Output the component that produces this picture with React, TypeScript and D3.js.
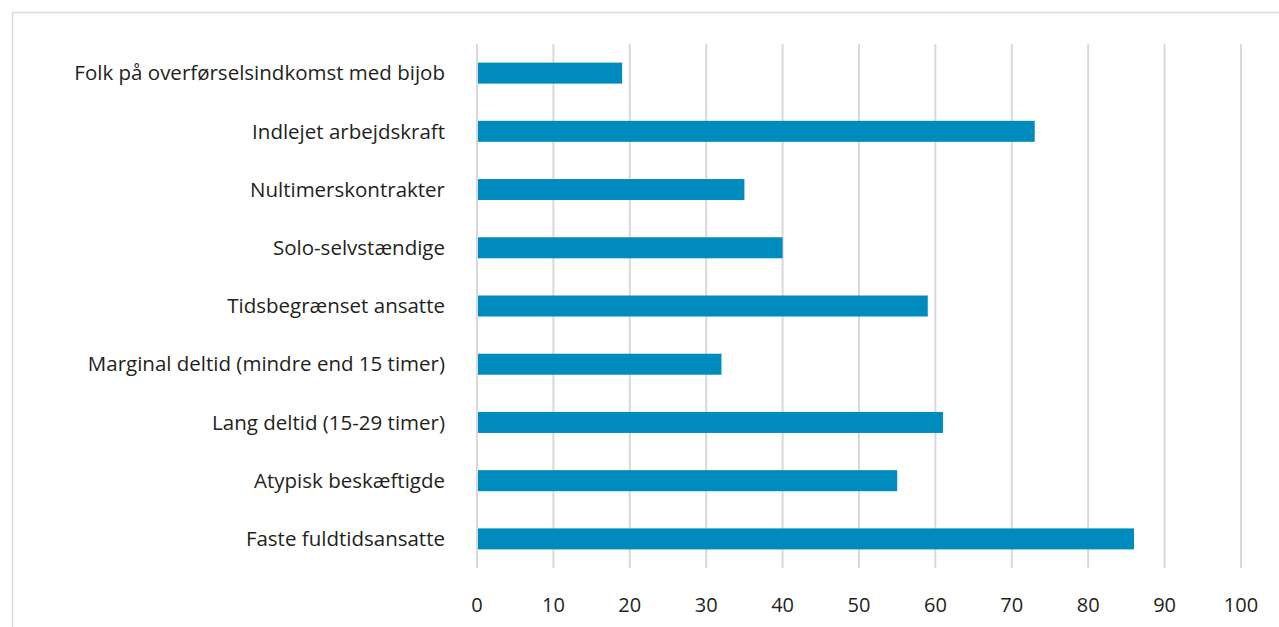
import React, { useEffect, useRef } from 'react';
import * as d3 from 'd3';

// categories from top to bottom
const categories = [
  'Folk på overførselsindkomst med bijob',
  'Indlejet arbejdskraft',
  'Nultimerskontrakter',
  'Solo-selvstændige',
  'Tidsbegrænset ansatte',
  'Marginal deltid (mindre end 15 timer)',
  'Lang deltid (15-29 timer)',
  'Atypisk beskæftigde',
  'Faste fuldtidsansatte',
];
const values = [19, 73, 35, 40, 59, 32, 61, 55, 86];
const xTicks = [0, 10, 20, 30, 40, 50, 60, 70, 80, 90, 100];

export default function App() {
  const svgRef = useRef<SVGSVGElement>(null);

  useEffect(() => {
    if (!svgRef.current) return;
    const svg = d3.select(svgRef.current);
    svg.selectAll('*').remove();

    const width = 1279;
    const height = 627;
    const margin = { top: 44, left: 477, right: 38, bottom: 59 };

    // outer frame
    svg.append('rect')
      .attr('x', 12.5)
      .attr('y', 12.5)
      .attr('width', width + 20)
      .attr('height', height + 20)
      .attr('fill', 'none')
      .attr('stroke', '#d9d9d9')
      .attr('stroke-width', 1.5);

    const x = d3.scaleLinear()
      .domain([0, 100])
      .range([margin.left, width - margin.right]);

    const band = d3.scaleBand()
      .domain(categories)
      .range([margin.top, height - margin.bottom]);

    // gridlines
    svg.append('g')
      .selectAll('line')
      .data(xTicks)
      .enter()
      .append('line')
      .attr('x1', d => x(d))
      .attr('x2', d => x(d))
      .attr('y1', margin.top)
      .attr('y2', height - margin.bottom)
      .attr('stroke', '#d9d9d9')
      .attr('stroke-width', 2);

    // bars
    svg.append('g')
      .selectAll('rect')
      .data(values)
      .enter()
      .append('rect')
      .attr('x', x(0) + 1)
      .attr('y', (_, i) => band(categories[i])! + band.bandwidth() / 2 - 10.5)
      .attr('width', d => x(d) - x(0) - 1)
      .attr('height', 21)
      .attr('fill', '#008bbe');

    // category labels
    svg.append('g')
      .selectAll('text')
      .data(categories)
      .enter()
      .append('text')
      .attr('x', 445)
      .attr('y', d => band(d)! + band.bandwidth() / 2)
      .attr('dy', '0.35em')
      .attr('text-anchor', 'end')
      .attr('font-family', '"Open Sans", sans-serif')
      .attr('font-size', 20.5)
      .attr('fill', '#231f20')
      .text(d => d);

    // x tick labels
    svg.append('g')
      .selectAll('text')
      .data(xTicks)
      .enter()
      .append('text')
      .attr('x', d => x(d))
      .attr('y', 605)
      .attr('dy', '0.35em')
      .attr('text-anchor', 'middle')
      .attr('font-family', '"Open Sans", sans-serif')
      .attr('font-size', 20)
      .attr('fill', '#231f20')
      .text(d => d);
  }, []);

  return (
    <svg
      ref={svgRef}
      width={1279}
      height={627}
      style={{ position: 'absolute', left: 0, top: 0, background: '#fff' }}
    />
  );
}
